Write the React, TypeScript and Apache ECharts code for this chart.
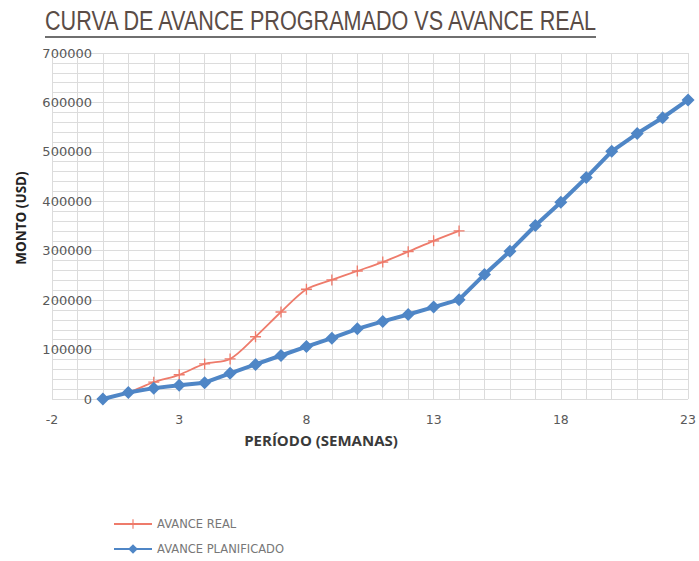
import React, { useEffect, useRef } from "react";
import * as echarts from "echarts";

const weeksPlan: number[] = [0, 1, 2, 3, 4, 5, 6, 7, 8, 9, 10, 11, 12, 13, 14, 15, 16, 17, 18, 19, 20, 21, 22, 23];
const avancePlanificado: number[] = [0, 13000, 22000, 28000, 33000, 52000, 70000, 88000, 106000, 123000, 142000, 157000, 171000, 186000, 201000, 252000, 299000, 351000, 398000, 448000, 501000, 537000, 569000, 605000];
const weeksReal: number[] = [0, 1, 2, 3, 4, 5, 6, 7, 8, 9, 10, 11, 12, 13, 14];
const avanceReal: number[] = [0, 13000, 34000, 49000, 71000, 81000, 126000, 176000, 222000, 241000, 259000, 277000, 298000, 320000, 340000];

const TITLE = "CURVA DE AVANCE PROGRAMADO VS AVANCE REAL";
const X_NAME = "PERÍODO (SEMANAS)";
const Y_NAME = "MONTO (USD)";
const SERIES_REAL = "AVANCE REAL";
const SERIES_PLAN = "AVANCE PLANIFICADO";

const PLUS = "path://M4.4,0 H5.6 V4.4 H10 V5.6 H5.6 V10 H4.4 V5.6 H0 V4.4 H4.4 Z";

export default function App() {
  const ref = useRef<HTMLDivElement>(null);
  useEffect(() => {
    if (!ref.current) return;
    const chart = echarts.init(ref.current, null, { renderer: "svg" });
    const labelFont = "'DejaVu Sans', sans-serif";
    const gridColor = "#dcdcdc";
    chart.setOption({
      animation: false,
      backgroundColor: "#ffffff",
      graphic: [
        {
          type: "text",
          x: 45,
          y: 34,
          scaleX: 0.772,
          style: {
            text: TITLE,
            font: "28px 'Liberation Sans', sans-serif",
            fill: "#5a4c46",
            align: "left",
            verticalAlign: "bottom",
          },
        },
        {
          type: "line",
          shape: { x1: 45, y1: 37, x2: 596, y2: 37 },
          style: { stroke: "#3f3f3f", lineWidth: 1.5 },
        },
        {
          type: "text",
          x: 21,
          y: 218,
          rotation: Math.PI / 2,
          style: {
            text: Y_NAME,
            font: "bold 13.5px 'Open Sans', 'DejaVu Sans', sans-serif",
            fill: "#222222",
            align: "center",
            verticalAlign: "middle",
          },
        },
        {
          type: "text",
          x: 321,
          y: 440,
          style: {
            text: X_NAME,
            font: "bold 15px 'Open Sans', 'DejaVu Sans', sans-serif",
            fill: "#3a3a3a",
            align: "center",
            verticalAlign: "middle",
          },
        },
      ],
      legend: {
        orient: "vertical",
        left: 113,
        top: 518,
        padding: 0,
        height: 40,
        itemWidth: 38,
        itemHeight: 12,
        itemGap: 13,
        data: [SERIES_REAL, SERIES_PLAN],
        textStyle: { fontFamily: labelFont, fontSize: 11.5, color: "#777777" },
      },
      grid: { left: 52, right: 9, top: 53, bottom: 162, containLabel: false },
      xAxis: {
        type: "value",
        min: -2,
        max: 23,
        interval: 5,
        axisLine: { show: false, onZero: false },
        axisTick: { show: false },
        axisLabel: { margin: 14, fontFamily: labelFont, fontSize: 12.5, color: "#595959" },
        splitLine: { show: true, lineStyle: { color: gridColor, width: 1 } },
        minorTick: { show: false, splitNumber: 5 },
        minorSplitLine: { show: true, lineStyle: { color: gridColor, width: 1 } },
      },
      yAxis: {
        type: "value",
        min: 0,
        max: 700000,
        interval: 100000,
        offset: -51,
        axisLine: { show: false, onZero: false },
        axisTick: { show: false },
        axisLabel: {
          margin: 11,
          fontFamily: labelFont,
          fontSize: 13,
          color: "#595959",
          formatter: (v: number) => String(v),
        },
        splitLine: { show: true, lineStyle: { color: gridColor, width: 1 } },
        minorTick: { show: false, splitNumber: 5 },
        minorSplitLine: { show: true, lineStyle: { color: gridColor, width: 1 } },
      },
      series: [
        {
          name: SERIES_REAL,
          type: "line",
          data: weeksReal.map((w, i) => [w, avanceReal[i]]),
          smooth: 0.3,
          symbol: PLUS,
          symbolSize: 11,
          lineStyle: { color: "#ee7b6b", width: 1.8 },
          itemStyle: { color: "#ee7b6b" },
          z: 2,
        },
        {
          name: SERIES_PLAN,
          type: "line",
          data: weeksPlan.map((w, i) => [w, avancePlanificado[i]]),
          symbol: "diamond",
          symbolSize: 13,
          lineStyle: { color: "#4f86c6", width: 4 },
          itemStyle: { color: "#4f86c6" },
          z: 3,
        },
      ],
    });
    return () => chart.dispose();
  }, []);
  return <div ref={ref} style={{ position: "fixed", left: 0, top: 0, width: 699, height: 561 }} />;
}
